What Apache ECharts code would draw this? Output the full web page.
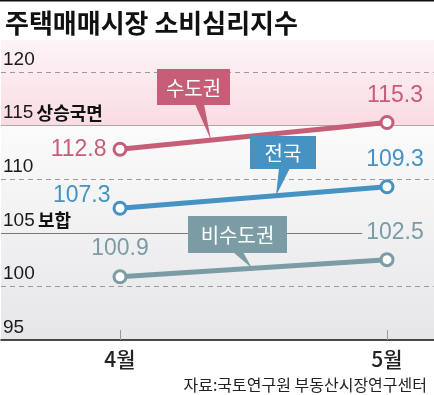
<!DOCTYPE html>
<html><head><meta charset="utf-8">
<script src="https://cdn.jsdelivr.net/npm/echarts@6/dist/echarts.min.js"></script>
<style>html,body{margin:0;padding:0;background:#fff}#c{width:434px;height:395px}</style>
</head><body><div id="c"></div>
<script>
// ---- data ----
const titleText = '주택매매시장 소비심리지수';
const sourceText = '자료:국토연구원 부동산시장연구센터';
const months = ['4월', '5월'];
const seriesNames = ['수도권', '전국', '비수도권'];
const metroValues = [112.8, 115.3];
const nationalValues = [107.3, 109.3];
const nonMetroValues = [100.9, 102.5];
const yTicks = [95, 100, 105, 110, 115, 120];
const yTickNotes = { 115: '상승국면', 105: '보합' };

// ---- style ----
const NUM_FONT = '"Liberation Sans Narrow", "Arial Narrow", "Liberation Sans", sans-serif';
const KR_FONT = '"Noto Sans CJK KR", "Noto Sans", sans-serif';
const colors = ['#c65e78', '#4592c3', '#7b9ca5'];
const allValues = [metroValues, nationalValues, nonMetroValues];
const labelPos = [
  [{ position: 'left', distance: 6, offset: [0, 0] }, { position: 'top', distance: 8, offset: [8, 0] }],
  [{ position: 'left', distance: 2, offset: [0, -13] }, { position: 'top', distance: 8, offset: [8, 0] }],
  [{ position: 'top', distance: 9, offset: [0, 0] }, { position: 'top', distance: 8, offset: [8, 0] }]
];

const chart = echarts.init(document.getElementById('c'), null, { renderer: 'canvas' });

const dataSeries = allValues.map((vals, k) => ({
  type: 'line',
  name: seriesNames[k],
  xAxisIndex: 1, yAxisIndex: 1,
  z: 5,
  symbol: 'circle', symbolSize: 12,
  lineStyle: { color: colors[k], width: 5 },
  itemStyle: { color: '#fff', borderColor: colors[k], borderWidth: 3 },
  emphasis: { disabled: true },
  data: vals.map((v, i) => ({
    value: v,
    label: Object.assign({
      show: true, color: colors[k], fontSize: 23, fontFamily: NUM_FONT,
      formatter: p => p.value.toFixed(1)
    }, labelPos[k][i])
  }))
}));

const dashed = { type: [5, 4], color: '#9a9a9a', width: 1 };
const solidLight = { type: 'solid', color: '#a8a8a8', width: 1.2 };
const solidDark = { type: 'solid', color: '#7a7a7a', width: 1.2 };

chart.setOption({
  animation: false,
  title: [
    { text: titleText, left: 0, top: 5, textStyle: { fontFamily: KR_FONT, fontSize: 26, fontWeight: 'bold', color: '#111' } },
    { text: sourceText, right: 2, top: 372, textStyle: { fontFamily: KR_FONT, fontSize: 16, fontWeight: 'normal', color: '#222' } }
  ],
  grid: [
    { left: 0, right: 0, top: 40, bottom: 55 },
    { left: 120, right: 47, top: 40, bottom: 55 }
  ],
  xAxis: [
    { gridIndex: 0, type: 'value', min: 0, max: 1, z: 10, axisLine: { show: true, lineStyle: { color: '#111', width: 1.5 } }, axisTick: { show: false }, axisLabel: { show: false }, splitLine: { show: false } },
    { gridIndex: 1, type: 'category', data: months, boundaryGap: false, z: 10,
      axisLine: { show: false },
      axisTick: { show: true, inside: true, length: 10, lineStyle: { color: '#999', width: 1 } },
      axisLabel: { color: '#222', fontSize: 21, fontFamily: KR_FONT, fontWeight: 500, margin: 9 } }
  ],
  yAxis: [
    { gridIndex: 0, type: 'value', min: 95, max: 123, interval: 5, z: 10,
      axisLine: { show: false }, axisTick: { show: false }, splitLine: { show: false },
      axisLabel: {
        inside: true, margin: 2, align: 'left', verticalAlign: 'bottom', padding: [0, 0, 3, 0],
        formatter: v => {
          if (!yTicks.includes(v)) return '';
          return yTickNotes[v] ? `{n|${v}} {k|${yTickNotes[v]}}` : `{n|${v}}`;
        },
        rich: {
          n: { fontFamily: NUM_FONT, fontSize: 19, color: '#1a1a1a' },
          k: { fontFamily: KR_FONT, fontSize: 18, fontWeight: 'bold', color: '#111' }
        }
      } },
    { gridIndex: 1, type: 'value', min: 95, max: 123, interval: 5, show: false }
  ],
  series: [
    { type: 'line', xAxisIndex: 0, yAxisIndex: 0, data: [], z: 1, silent: true,
      markArea: { silent: true, label: { show: false },
        data: [
          [{ yAxis: 123, itemStyle: { color: new echarts.graphic.LinearGradient(0, 0, 0, 1, [{ offset: 0, color: '#fdf4f7' }, { offset: 1, color: '#fadbe3' }]) } }, { yAxis: 115 }],
          [{ yAxis: 115, itemStyle: { color: new echarts.graphic.LinearGradient(0, 0, 0, 1, [{ offset: 0, color: '#fbfbfb' }, { offset: 1, color: '#e6e6e9' }]) } }, { yAxis: 95 }]
        ] },
      markLine: { silent: true, symbol: 'none', label: { show: false },
        data: [
          { yAxis: 120, lineStyle: dashed },
          { yAxis: 115, lineStyle: solidLight },
          { yAxis: 110, lineStyle: dashed },
          [{ coord: [0, 105], lineStyle: solidDark }, { coord: [0.834, 105] }],
          { yAxis: 100, lineStyle: dashed }
        ] }
    },
    ...dataSeries
  ]
});

// ---- callout boxes (layout), pointer tips land on the drawn lines ----
const callouts = [
  { s: 0, box: [157, 69, 73, 36], base: [195, 204], tipX: 211 },
  { s: 1, box: [250, 136, 66, 33], base: [279, 290], tipX: 276 },
  { s: 2, box: [188, 216, 99, 37], base: [233, 243], tipX: 252 }
];
const graphics = [{ type: 'rect', shape: { x: 0, y: 0, width: 434, height: 1.5 }, style: { fill: '#111' }, z: 100 }];
callouts.forEach(c => {
  const vals = allValues[c.s];
  const p0 = chart.convertToPixel({ xAxisIndex: 1, yAxisIndex: 1 }, [0, vals[0]]);
  const p1 = chart.convertToPixel({ xAxisIndex: 1, yAxisIndex: 1 }, [1, vals[1]]);
  const t = (c.tipX - p0[0]) / (p1[0] - p0[0]);
  const tipY = p0[1] + t * (p1[1] - p0[1]);
  const [bx, by, bw, bh] = c.box;
  const col = colors[c.s];
  graphics.push({ type: 'polygon', z: 20, shape: { points: [[c.base[0], by + bh - 1], [c.base[1], by + bh - 1], [c.tipX, tipY]] }, style: { fill: col } });
  graphics.push({ type: 'rect', z: 20, shape: { x: bx, y: by, width: bw, height: bh }, style: { fill: col } });
  graphics.push({ type: 'text', z: 21, x: bx + bw / 2, y: by + bh / 2 + 1,
    style: { text: seriesNames[c.s], fill: '#fff', fontFamily: KR_FONT, fontSize: 20, fontWeight: 'normal', align: 'center', verticalAlign: 'middle' } });
});
chart.setOption({ graphic: graphics });
</script>
</body></html>
